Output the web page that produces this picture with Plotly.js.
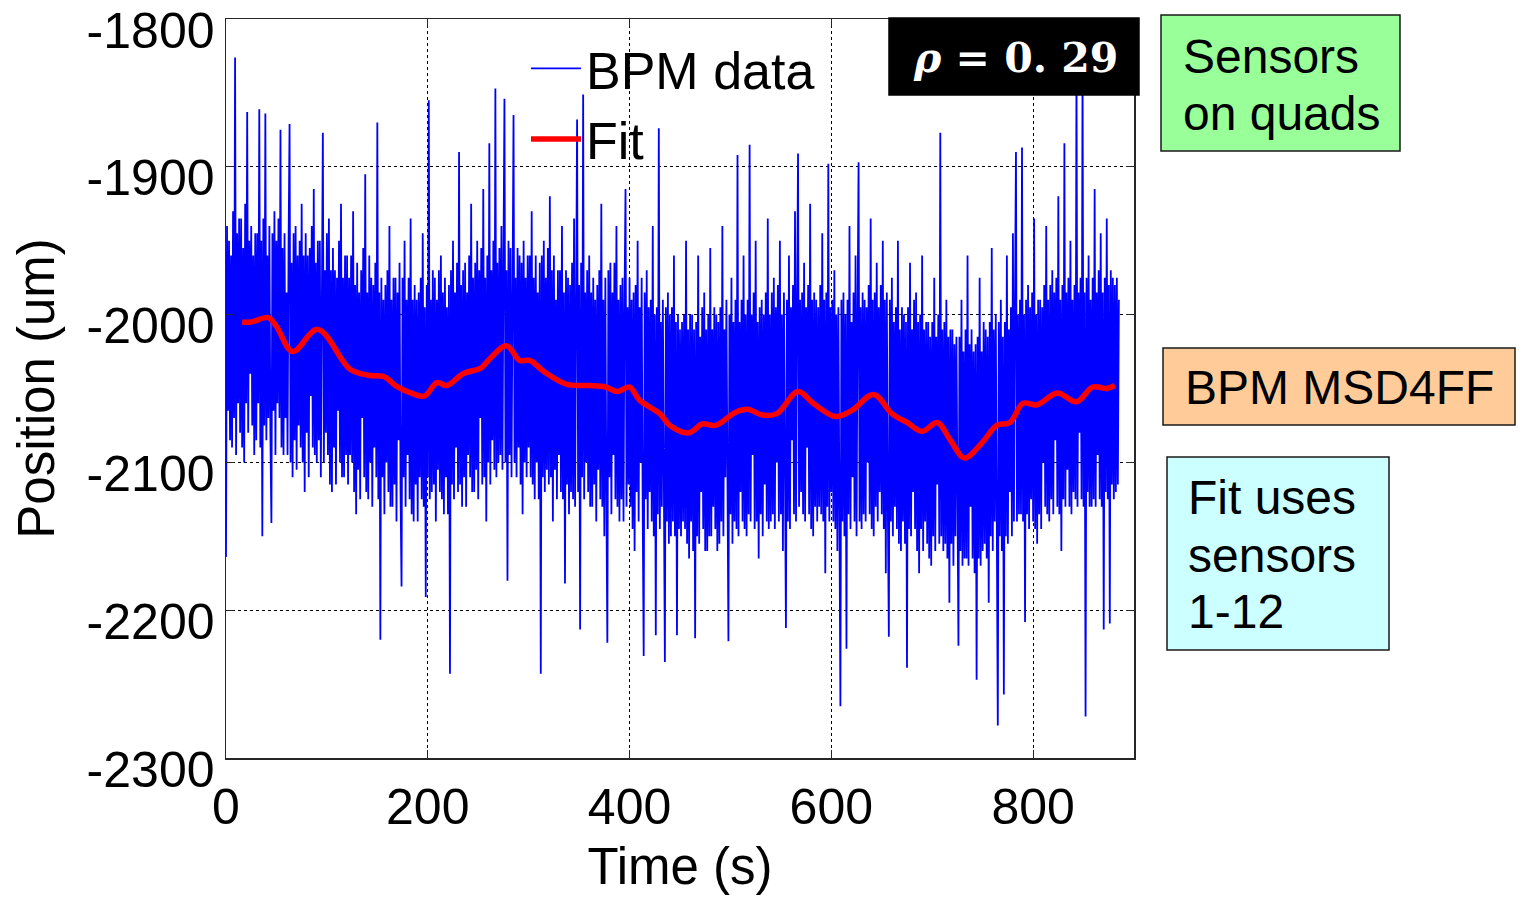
<!DOCTYPE html>
<html>
<head>
<meta charset="utf-8">
<script src="https://cdn.plot.ly/plotly-3.0.1.min.js"></script>
<style>html,body{margin:0;padding:0;background:#fff;}#chart{width:1524px;height:897px;}</style>
</head>
<body>
<div id="chart"></div>
<script>
// BPM data: one reading per second (um)
const bpmStart = 0;
const bpmStep = 1;
const bpmValues = [
  -2164,-1940,-2065,-1950,-2085,-1960,-2090,-1930,-2070,-1826,-2095,-1945,-2060,-1935,-2080,-1935,-2090,-1955,-2100,-1925,-2060,-1863,-2080,-1950,-2040,-1940,-2075,-1960,-2095,-1945,
  -2085,-1945,-2060,-1861,-2090,-1950,-2150,-1935,-2075,-1864,-2085,-1960,-2070,-1940,-2080,-2141,-1945,-2065,-1930,-2095,-1950,-2060,-1935,-2070,-1875,-2090,-1955,-2095,-1945,-2070,
  -1985,-2095,-1955,-1871,-2100,-1965,-2110,-1945,-2085,-1940,-2105,-1960,-2075,-1950,-2090,-1925,-2100,-1960,-2120,-1945,-2080,-1960,-2110,-1955,-2055,-1940,-2090,-1915,-2095,-1965,
  -2100,-1950,-2085,-1950,-2110,-1965,-1877,-2100,-1970,-2080,-1945,-2095,-1935,-2115,-1970,-2120,-1955,-2090,-1970,-2115,-1975,-2065,-1950,-2100,-1925,-2110,-1975,-2110,-1960,-2095,
  -1960,-2115,-1975,-2095,-1960,-2100,-1930,-2120,-1980,-2135,-1965,-2105,-1985,-2125,-1970,-2070,-1955,-2110,-1905,-2120,-1985,-2125,-1960,-2100,-1975,-2130,-1980,-2090,-1965,-2110,
  -1870,-2125,-1985,-2220,-1975,-2110,-1990,-2135,-1980,-2100,-1970,-2120,-1940,-2130,-1990,-2130,-1975,-2115,-1975,-2140,-1985,-2085,-1965,-2120,-2184,-1975,-2110,-1950,-2130,-1990,
  -2095,-1975,-2125,-1935,-2135,-1990,-2140,-1980,-2115,-1990,-2140,-1985,-2110,-1975,-2125,-1945,-2130,-1995,-2191,-1980,-2110,-1855,-2125,-1990,-2120,-1970,-2115,-1975,-2140,-1990,
  -2105,-1970,-2120,-1960,-2125,-1985,-2135,-1975,-2110,-1995,-2135,-1980,-2243,-1970,-2115,-1950,-2125,-1985,-2090,-1965,-2120,-1890,-2115,-1980,-2130,-1970,-2110,-1965,-2130,-1985,
  -2095,-1960,-2110,-1925,-2120,-1975,-2120,-1965,-2105,-1950,-2125,-1970,-2070,-1955,-2115,-1915,-2110,-1975,-2140,-1960,-2100,-1884,-2115,-1970,-2085,-1950,-2105,-1847,-2110,-1965,
  -2100,-1955,-2095,-1940,-2105,-1965,-1854,-2100,-1970,-2180,-1950,-2095,-1955,-2110,-1960,-1865,-2100,-1975,-2110,-1955,-2090,-1960,-2115,-1965,-2135,-1950,-2100,-1975,-2110,-1960,
  -2090,-1960,-2110,-1930,-2115,-1975,-2125,-1960,-2100,-1985,-2125,-1965,-2243,-1960,-2110,-1950,-2120,-1975,-2105,-1955,-2115,-1920,-2110,-1970,-2140,-1960,-2105,-1990,-2125,-1970,
  -2095,-1970,-2120,-1940,-2125,-1985,-2182,-1970,-2115,-1975,-2135,-1980,-2120,-1965,-2125,-1935,-2130,-1990,-1868,-2120,-1980,-2213,-1965,-2110,-1851,-2125,-1985,-2100,-1970,-2120,
  -1960,-2130,-1985,-2130,-1975,-2115,-1990,-2140,-1980,-2105,-1970,-2125,-1925,-2130,-1990,-2150,-1975,-2120,-2222,-1970,-2110,-1965,-2135,-1985,-2095,-1965,-2125,-1940,-2130,-1990,
  -2140,-1980,-2125,-1975,-2140,-1990,-1915,-2130,-1995,-2115,-1975,-2130,-1990,-2145,-1985,-2160,-1980,-2120,-1950,-2140,-1995,-2100,-1975,-2130,-2231,-1985,-2125,-1970,-2145,-1995,
  -2120,-1990,-2140,-1940,-2150,-2000,-2217,-1995,-2135,-1874,-2145,-2005,-2130,-1990,-2145,-2235,-1995,-2140,-1985,-2155,-2000,-2150,-1995,-2140,-1960,-2150,-2005,-2217,-2000,-2145,
  -2010,-2150,-2005,-2140,-2000,-2145,-1950,-2155,-2010,-2165,-2000,-2140,-2000,-2160,-2010,-2219,-2005,-2150,-1960,-2155,-2015,-2120,-1995,-2145,-1985,-2160,-2010,-2160,-2000,-2150,
  -1955,-2150,-2010,-2130,-1995,-2145,-2000,-2160,-2005,-2155,-1995,-2140,-1940,-2150,-2010,-2110,-1990,-2145,-2221,-2000,-2135,-1975,-2155,-2005,-2140,-1990,-2145,-1892,-2150,-2005,
  -2120,-1990,-2140,-1960,-2145,-2000,-2150,-1990,-2135,-1885,-2140,-2000,-2095,-1985,-2145,-1950,-2140,-2005,-2165,-1995,-2135,-1990,-2150,-2000,-2115,-1985,-2140,-1935,-2145,-2000,
  -2140,-1985,-2135,-1975,-2145,-1995,-2100,-1980,-2140,-1950,-2135,-2000,-2160,-1985,-2130,-2212,-1990,-2140,-1960,-2145,-1995,-2085,-1980,-2135,-1930,-2140,-1995,-1891,-2130,-1990,
  -2120,-1985,-2135,-1965,-2140,-1995,-2090,-1980,-2135,-1925,-2145,-1990,-2150,-1985,-2130,-1990,-2140,-1995,-2130,-1980,-2135,-1945,-2140,-1990,-2175,-1985,-2130,-1898,-2140,-1995,
  -2120,-1990,-2140,-1970,-2145,-2000,-2160,-1995,-2130,-2265,-1990,-2140,-1985,-2150,-2000,-2226,-1990,-2135,-1940,-2145,-2005,-2110,-1985,-2140,-1960,-2150,-2000,-1897,-2140,-1995,
  -2145,-1985,-2135,-1990,-2140,-1995,-2100,-1980,-2135,-1935,-2145,-1990,-2150,-1985,-2130,-1965,-2140,-1995,-2120,-1980,-2135,-1950,-2145,-1990,-2175,-1985,-2130,-2218,-1990,-2140,
  -1975,-2150,-2005,-2130,-1995,-2145,-1950,-2155,-2010,-2160,-1995,-2140,-2000,-2155,-2005,-2239,-1995,-2145,-1965,-2150,-2010,-2120,-1990,-2145,-1985,-2160,-2005,-2175,-2000,-2145,
  -1960,-2160,-2010,-2140,-2005,-2155,-2005,-2165,-2015,-2170,-2005,-2150,-1975,-2160,-2015,-2115,-2000,-2155,-1877,-2150,-2010,-2160,-2005,-2155,-1990,-2165,-2015,-2195,-2010,-2155,
  -2010,-2170,-2020,-2150,-2015,-2165,-2224,-2015,-2160,-1990,-2170,-2025,-2165,-2010,-2165,-1960,-2170,-2020,-2130,-2010,-2165,-2025,-2175,-2020,-2247,-2015,-2165,-1975,-2170,-2025,
  -2160,-2005,-2155,-2010,-2165,-2015,-2195,-2005,-2150,-1955,-2160,-2010,-2140,-2000,-2155,-2278,-2005,-2150,-1990,-2160,-2015,-2257,-2005,-2150,-1960,-2155,-2010,-2120,-1995,-2150,
  -1945,-2140,-1995,-1890,-2140,-2000,-2135,-1990,-2135,-1887,-2140,-2000,-2208,-1990,-2135,-1980,-2145,-1995,-2125,-1985,-2140,-1935,-2145,-2000,-2155,-1990,-2135,-1990,-2145,-1995,
  -2100,-1980,-2130,-1940,-2135,-1990,-2140,-1980,-2125,-1970,-2135,-1985,-2085,-1975,-2130,-1920,-2135,-1990,-2160,-1980,-2125,-1884,-2130,-1985,-2105,-1975,-2130,-1950,-2135,-1990,
  -2120,-1980,-2125,-1828,-2130,-1985,-2080,-1975,-2125,-1830,-2130,-1985,-2272,-1975,-2120,-1960,-2130,-1990,-2130,-1975,-2125,-1915,-2130,-1985,-2095,-1970,-2125,-1945,-2130,-1985,
  -2213,-1975,-2120,-1935,-2125,-1980,-2209,-1970,-2115,-1975,-2125,-1980,-2120,-1975,-2115,-1990
];
const bpmTime = bpmValues.map((_, i) => bpmStart + i * bpmStep);

// Fit curve
const fitTime = [16,25,42,50,66,91,123,141,157,168,187,197,209,219,235,253,260,278,291,301,
  316,337,361,376,388,400,410,430,440,459,472,485,505,517,532,546,567,582,604,620,
  642,660,675,690,705,718,732,749,764,777,790,804,824,843,859,873,881];
const fitValues = [-2005,-2005,-2002,-2008,-2025,-2010,-2037,-2041,-2042,-2048,-2054,-2055,-2046,-2048,-2040,-2036,-2031,-2021,-2031,-2031,
  -2039,-2047,-2048,-2049,-2052,-2049,-2058,-2067,-2075,-2080,-2074,-2075,-2066,-2064,-2068,-2067,-2052,-2060,-2069,-2065,
  -2054,-2067,-2073,-2079,-2073,-2085,-2097,-2087,-2075,-2073,-2060,-2061,-2053,-2059,-2049,-2050,-2048];

const seriesNames = ["BPM data", "Fit"];
const xTickVals = [0, 200, 400, 600, 800];
const xTickText = ["0", "200", "400", "600", "800"];
const yTickVals = [-2300, -2200, -2100, -2000, -1900, -1800];
const yTickText = ["-2300", "-2200", "-2100", "-2000", "-1900", "-1800"];
const xTitle = "Time (s)";
const yTitle = "Position (um)";
const rhoText = "<b><i>ρ</i> = 0. 29</b>";
const sensorsLines = ["Sensors", "on quads"];
const bpmLines = ["BPM MSD4FF"];
const fitLines = ["Fit uses", "sensors", "1-12"];

const FONT = "'Liberation Sans', Arial, Helvetica, sans-serif";

const traces = [
  {x: bpmTime, y: bpmValues, type: 'scatter', mode: 'lines', name: seriesNames[0],
   line: {color: '#0000ff', width: 1.8}},
  {x: fitTime, y: fitValues, type: 'scatter', mode: 'lines', name: seriesNames[1],
   line: {color: '#ff0000', width: 5.5, shape: 'spline', smoothing: 1}}
];

// plot area: x 226..1134, y 19..758
const L = 226, R = 1134, T = 19, B = 758;
const px = v => (v - L) / (R - L);
const py = v => (B - v) / (B - T);

function rect(x0, y0, x1, y1, fill, line) {
  return {type: 'rect', xref: 'paper', yref: 'paper', x0: px(x0), x1: px(x1), y0: py(y1), y1: py(y0),
          fillcolor: fill, line: {color: line, width: 1.5}, layer: 'above'};
}
function lineNotes(lines, left, centers, size) {
  return lines.map((t, i) => ({text: t, xref: 'paper', yref: 'paper', x: px(left), y: py(centers[i]),
    xanchor: 'left', yanchor: 'middle', showarrow: false, font: {family: FONT, size: size, color: '#000'}}));
}

const layout = {
  width: 1524, height: 897,
  margin: {l: L, r: 1524 - R, t: T, b: 897 - B},
  paper_bgcolor: '#ffffff', plot_bgcolor: '#ffffff',
  font: {family: FONT, color: '#000000', size: 50},
  showlegend: true,
  legend: {x: px(526), y: py(28), xanchor: 'left', yanchor: 'top', bgcolor: 'rgba(0,0,0,0)',
           font: {family: FONT, size: 52, color: '#000'}, tracegroupgap: 0, itemwidth: 50},
  xaxis: {range: [0, 900], tickvals: xTickVals, ticktext: xTickText, ticks: 'inside', ticklen: 8,
          tickcolor: '#262626', showline: true, linecolor: '#262626', linewidth: 1.5, mirror: 'ticks',
          showgrid: true, gridcolor: '#000000', griddash: 'dot', gridwidth: 1, zeroline: false,
          tickfont: {family: FONT, size: 50}, ticklabelstandoff: 4,
          title: {text: xTitle, font: {family: FONT, size: 51}, standoff: 15}},
  yaxis: {range: [-2300, -1800], tickvals: yTickVals, ticktext: yTickText, ticks: 'inside', ticklen: 8,
          tickcolor: '#262626', showline: true, linecolor: '#262626', linewidth: 1.5, mirror: 'ticks',
          showgrid: true, gridcolor: '#000000', griddash: 'dot', gridwidth: 1, zeroline: false,
          tickfont: {family: FONT, size: 50}, ticklabelstandoff: 0, ticklabelshift: 11,
          ticklabeloverflow: 'allow',
          title: {text: yTitle, font: {family: FONT, size: 51}, standoff: 16}},
  shapes: [
    rect(889, 18, 1139, 95, '#000000', '#000000'),
    rect(1161, 15, 1400, 151, '#99ff99', '#1a1a1a'),
    rect(1163, 348, 1515, 425, '#ffcc99', '#1a1a1a'),
    rect(1167, 457, 1389, 650, '#ccffff', '#1a1a1a')
  ],
  annotations: [
    {text: rhoText, xref: 'paper', yref: 'paper', x: px(1015), y: py(58), xanchor: 'center', yanchor: 'middle',
     showarrow: false, font: {family: "'DejaVu Serif', serif", size: 41, color: '#ffffff'}}
  ].concat(
    lineNotes(sensorsLines, 1181, [56, 114], 48),
    lineNotes(bpmLines, 1183, [388], 48),
    lineNotes(fitLines, 1186, [498, 555, 611], 48)
  )
};

Plotly.newPlot('chart', traces, layout, {staticPlot: true, displayModeBar: false});
</script>
</body>
</html>
